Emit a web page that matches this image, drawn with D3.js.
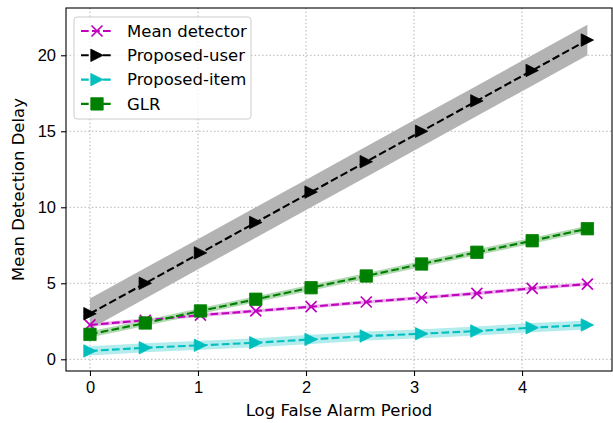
<!DOCTYPE html>
<html>
<head>
<meta charset="utf-8">
<script src="https://cdn.jsdelivr.net/npm/d3@7"></script>
<style>
  html, body { margin: 0; padding: 0; background: #fff; }
  svg { display: block; font-family: "DejaVu Sans", sans-serif; }
  .axis path, .axis line { stroke: #000; stroke-width: 1.1; }
  .axis text { font-size: 16.5px; fill: #000; }
</style>
</head>
<body>
<svg id="chart" width="613" height="423"></svg>
<script>
// log false alarm period (x) and mean detection delay per method
const logPeriod = [0, 0.512, 1.023, 1.535, 2.047, 2.558, 3.070, 3.582, 4.094, 4.605]
const meanDetector = [2.26, 2.57, 2.91, 3.18, 3.46, 3.77, 4.05, 4.34, 4.67, 4.95]
const proposedUser = [3.0, 5.0, 7.0, 9.0, 11.0, 13.0, 15.0, 17.0, 19.0, 21.0]
const proposedItem = [0.55, 0.76, 0.92, 1.09, 1.31, 1.53, 1.68, 1.86, 2.08, 2.26]
const glr = [1.64, 2.39, 3.18, 3.95, 4.71, 5.48, 6.27, 7.04, 7.80, 8.59]
// half width of the shaded band around each curve
const meanSpread = [0.12, 0.12, 0.12, 0.12, 0.12, 0.12, 0.12, 0.12, 0.12, 0.12]
const userSpread = [1, 1, 1, 1, 1, 1, 1, 1, 1, 1]
const itemSpread = [0.3, 0.3, 0.3, 0.3, 0.3, 0.3, 0.3, 0.3, 0.3, 0.3]
const glrSpread = [0.2, 0.2, 0.2, 0.2, 0.2, 0.2, 0.2, 0.2, 0.2, 0.2]
const xTicks = [0, 1, 2, 3, 4]
const yTicks = [0, 5, 10, 15, 20]

const MARGINS = { top: 8, right: 1, bottom: 52, left: 66 }

const series = [
  { name: 'Mean detector', values: meanDetector, spread: meanSpread, color: '#bf00bf', band: 'rgb(236,179,236)', marker: 'x' },
  { name: 'Proposed-user', values: proposedUser, spread: userSpread, color: '#000000', band: 'rgb(179,179,179)', marker: 'tri' },
  { name: 'Proposed-item', values: proposedItem, spread: itemSpread, color: '#00bfbf', band: 'rgb(179,236,236)', marker: 'tri' },
  { name: 'GLR', values: glr, spread: glrSpread, color: '#008000', band: 'rgb(179,217,179)', marker: 'sq' }
]

const svg = d3.select('#chart')
const width = +svg.attr('width') - MARGINS.left - MARGINS.right
const height = +svg.attr('height') - MARGINS.top - MARGINS.bottom

const scaleX = d3.scaleLinear().domain([-0.222, 4.833]).range([0, width])
const scaleY = d3.scaleLinear().domain([-0.77, 23.11]).range([height, 0])

const g = svg.append('g').attr('transform', 'translate(' + MARGINS.left + ',' + MARGINS.top + ')')

// grid
g.append('g')
  .selectAll('line')
  .data(xTicks)
  .enter()
  .append('line')
  .attr('x1', d => scaleX(d)).attr('x2', d => scaleX(d))
  .attr('y1', 0).attr('y2', height)
  .attr('stroke', '#b0b0b0').attr('stroke-width', 1).attr('stroke-dasharray', '1.4,2.3')

g.append('g')
  .selectAll('line')
  .data(yTicks)
  .enter()
  .append('line')
  .attr('y1', d => scaleY(d)).attr('y2', d => scaleY(d))
  .attr('x1', 0).attr('x2', width)
  .attr('stroke', '#b0b0b0').attr('stroke-width', 1).attr('stroke-dasharray', '1.4,2.3')

// bands
const area = d3.area()
  .x(d => scaleX(d.x))
  .y0(d => scaleY(d.y - d.s))
  .y1(d => scaleY(d.y + d.s))

series.forEach(s => {
  const pts = logPeriod.map((x, i) => ({ x: x, y: s.values[i], s: s.spread[i] }))
  g.append('path').datum(pts).attr('d', area).attr('fill', s.band)
})

const line = d3.line().x(d => scaleX(d.x)).y(d => scaleY(d.y))

function markerPath(type, r) {
  if (type === 'tri') return 'M' + r + ',0L' + (-r) + ',' + (-r) + 'L' + (-r) + ',' + r + 'Z'
  if (type === 'sq') return 'M' + (-r) + ',' + (-r) + 'H' + r + 'V' + r + 'H' + (-r) + 'Z'
  return 'M' + (-r) + ',' + (-r) + 'L' + r + ',' + r + 'M' + (-r) + ',' + r + 'L' + r + ',' + (-r)
}

function drawMarker(sel, s) {
  const r = s.marker === 'x' ? 5.5 : 6.2
  sel.append('path')
    .attr('d', markerPath(s.marker, r))
    .attr('fill', s.marker === 'x' ? 'none' : s.color)
    .attr('stroke', s.color)
    .attr('stroke-width', s.marker === 'x' ? 1.7 : 0.8)
}

series.forEach(s => {
  const pts = logPeriod.map((x, i) => ({ x: x, y: s.values[i] }))
  g.append('path')
    .datum(pts)
    .attr('d', line)
    .attr('fill', 'none')
    .attr('stroke', s.color)
    .attr('stroke-width', 2.1)
    .attr('stroke-dasharray', '7.7,3.3')
  g.selectAll(null)
    .data(pts)
    .enter()
    .append('g')
    .attr('transform', d => 'translate(' + scaleX(d.x) + ',' + scaleY(d.y) + ')')
    .each(function() { drawMarker(d3.select(this), s) })
})

// axes
g.append('g')
  .attr('class', 'axis')
  .attr('transform', 'translate(0,' + height + ')')
  .call(d3.axisBottom(scaleX).tickValues(xTicks).tickFormat(d3.format('d')).tickSize(5).tickPadding(5).tickSizeOuter(0))
  .call(a => a.select('.domain').remove())

g.append('g')
  .attr('class', 'axis')
  .call(d3.axisLeft(scaleY).tickValues(yTicks).tickFormat(d3.format('d')).tickSize(5).tickPadding(5).tickSizeOuter(0))
  .call(a => a.select('.domain').remove())

g.append('rect')
  .attr('width', width).attr('height', height)
  .attr('fill', 'none').attr('stroke', '#000').attr('stroke-width', 1.1)

svg.append('text')
  .attr('transform', 'rotate(-90)')
  .attr('x', -(MARGINS.top + height / 2))
  .attr('y', 24)
  .style('text-anchor', 'middle')
  .style('font-size', '16.5px')
  .text('Mean Detection Delay')

svg.append('text')
  .attr('x', MARGINS.left + width / 2)
  .attr('y', 416)
  .style('text-anchor', 'middle')
  .style('font-size', '16.5px')
  .text('Log False Alarm Period')

// legend
const legend = svg.append('g').attr('transform', 'translate(74,17)')
legend.append('rect')
  .attr('width', 177).attr('height', 102).attr('rx', 3)
  .attr('fill', 'rgba(255,255,255,0.8)').attr('stroke', '#cccccc').attr('stroke-width', 1)

series.forEach((s, i) => {
  const row = legend.append('g').attr('transform', 'translate(0,' + (14 + i * 24.3) + ')')
  row.append('line')
    .attr('x1', 7).attr('x2', 39).attr('y1', 0).attr('y2', 0)
    .attr('stroke', s.color).attr('stroke-width', 2.1).attr('stroke-dasharray', '7.7,3.3')
  drawMarker(row.append('g').attr('transform', 'translate(23,0)'), s)
  row.append('text')
    .attr('x', 53).attr('y', 0).attr('dy', '0.35em')
    .style('font-size', '16.5px')
    .text(s.name)
})
</script>
</body>
</html>
